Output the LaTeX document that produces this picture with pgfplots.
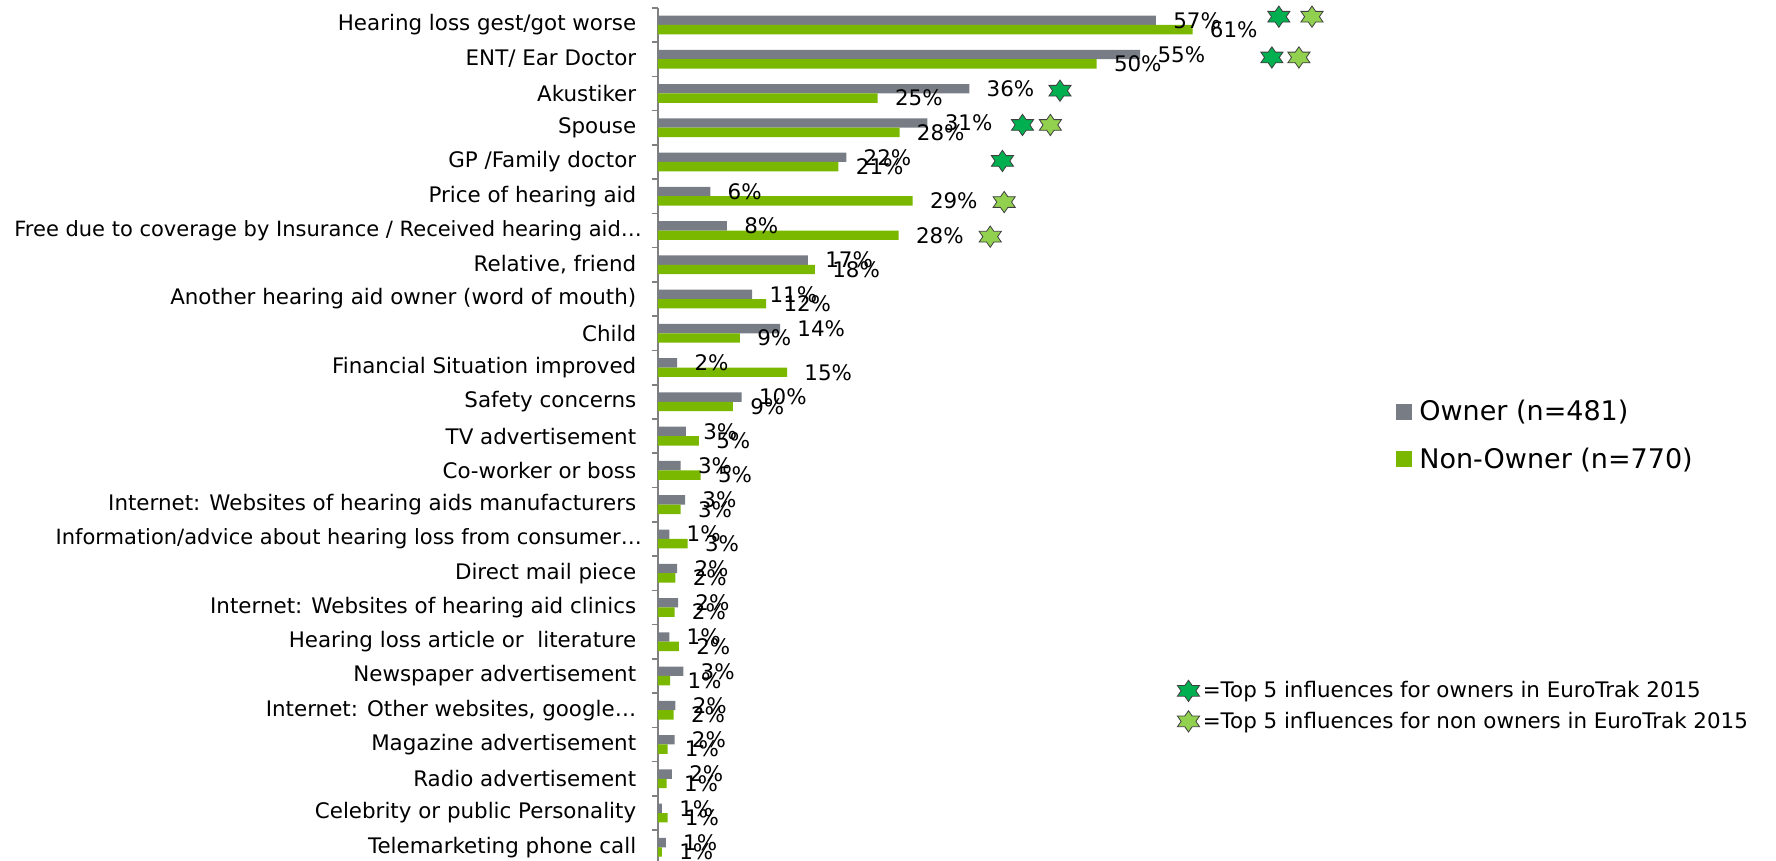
\documentclass[border=0pt]{standalone}
\usepackage{fontspec}
\setmainfont{DejaVu Sans}
\usepackage{pgfplots}
\pgfplotsset{compat=1.18}
\usepackage{pgfplotstable}

\definecolor{ownc}{RGB}{120,125,133}
\definecolor{nonc}{RGB}{122,184,0}
\definecolor{stard}{RGB}{0,176,80}
\definecolor{starl}{RGB}{146,208,80}
\definecolor{axc}{RGB}{128,128,128}

\newcommand{\lab}{\fontsize{10.7}{12.5}\selectfont}
\newcommand{\labs}{\fontsize{10.5}{12.5}\selectfont}
\newcommand{\legf}{\fontsize{13.5}{15.5}\selectfont}

\pgfdeclareplotmark{hexstar}{%
  \pgfpathmoveto{\pgfpoint{0pt}{\pgfplotmarksize}}%
  \pgfpathlineto{\pgfpoint{-0.346\pgfplotmarksize}{0.5\pgfplotmarksize}}%
  \pgfpathlineto{\pgfpoint{-1.039\pgfplotmarksize}{0.5\pgfplotmarksize}}%
  \pgfpathlineto{\pgfpoint{-0.693\pgfplotmarksize}{0pt}}%
  \pgfpathlineto{\pgfpoint{-1.039\pgfplotmarksize}{-0.5\pgfplotmarksize}}%
  \pgfpathlineto{\pgfpoint{-0.346\pgfplotmarksize}{-0.5\pgfplotmarksize}}%
  \pgfpathlineto{\pgfpoint{0pt}{-\pgfplotmarksize}}%
  \pgfpathlineto{\pgfpoint{0.346\pgfplotmarksize}{-0.5\pgfplotmarksize}}%
  \pgfpathlineto{\pgfpoint{1.039\pgfplotmarksize}{-0.5\pgfplotmarksize}}%
  \pgfpathlineto{\pgfpoint{0.693\pgfplotmarksize}{0pt}}%
  \pgfpathlineto{\pgfpoint{1.039\pgfplotmarksize}{0.5\pgfplotmarksize}}%
  \pgfpathlineto{\pgfpoint{0.346\pgfplotmarksize}{0.5\pgfplotmarksize}}%
  \pgfpathclose
  \pgfusepathqfillstroke
}

% y = row position counted from the bottom (Hearing loss = 24)
\pgfplotstableread{
y own lown non lnon
24 57.1 57 61.3 61
23 55.3 55 50.3 50
22 35.7 36 25.2 25
21 30.9 31 27.7 28
20 21.6 22 20.7 21
19 6.0 6 29.2 29
18 7.9 8 27.6 28
17 17.2 17 18.0 18
16 10.8 11 12.4 12
15 14.0 14 9.4 9
14 2.2 2 14.8 15
13 9.6 10 8.6 9
12 3.2 3 4.7 5
11 2.6 3 4.9 5
10 3.1 3 2.6 3
9 1.3 1 3.4 3
8 2.2 2 2.0 2
7 2.3 2 1.9 2
6 1.3 1 2.4 2
5 2.9 3 1.4 1
4 2.0 2 1.8 2
3 1.9 2 1.1 1
2 1.6 2 1.0 1
1 0.45 1 1.1 1
0 0.9 1 0.45 1
}\datatable

\begin{document}
\begin{tikzpicture}
\begin{axis}[
  at={(0pt,0pt)}, anchor=south west,
  scale only axis, width=348.8pt, height=426.6pt,
  xmin=0, xmax=80, ymin=-0.40, ymax=24.5,
  xbar, bar width=4.7pt,
  axis x line=none, axis y line*=left,
  y axis line style={draw=axc, line width=0.8pt, -},
  ytick={0,...,24},
  yticklabels={
    Telemarketing phone call,
    Celebrity or public Personality,
    Radio advertisement,
    Magazine advertisement,
    {Internet: Other websites, google…},
    Newspaper advertisement,
    Hearing loss article or~ literature,
    Internet: Websites of hearing aid clinics,
    Direct mail piece,
    {\labs Information/advice about hearing loss from consumer…\hspace*{-2.8pt}},
    Internet: Websites of hearing aids manufacturers,
    Co-worker or boss,
    TV advertisement,
    Safety concerns,
    Financial Situation improved,
    Child,
    Another hearing aid owner (word of mouth),
    {Relative, friend},
    {\labs Free due to coverage by Insurance / Received hearing aid…\hspace*{-2.8pt}},
    Price of hearing aid,
    GP /Family doctor,
    Spouse,
    Akustiker,
    ENT/ Ear Doctor,
    Hearing loss gest/got worse},
  major tick length=0pt,
  minor ytick={-0.5,0.5,...,24.5},
  minor tick length=3.2pt,
  tick align=outside,
  every minor tick/.append style={draw=axc, line width=0.8pt},
  yticklabel style={font=\lab, anchor=east, inner sep=0pt, xshift=-10.7pt},
  clip=false,
  point meta=explicit symbolic,
  nodes near coords={\pgfplotspointmeta\%},
  nodes near coords style={font=\lab, anchor=west, inner sep=0pt, xshift=8.5pt, text=black},
  legend style={at={(axis description cs:1.0572,0.4987)}, anchor=west,
    draw=none, fill=none, inner sep=0pt, font=\legf, row sep=12.1pt,
    nodes={inner sep=0pt, anchor=west},
    /tikz/every odd column/.append style={column sep=3.75pt}},
  legend cell align=left,
]
\addplot[fill=ownc, draw=none, bar shift=2.35pt,
  legend image code/.code={\fill[ownc] (0pt,-4pt) rectangle (8pt,4pt);}]
  table[x=own, y=y, meta=lown] {\datatable};
\addlegendentry{Owner (n=481)}
\addplot[fill=nonc, draw=none, bar shift=-2.35pt,
  legend image code/.code={\fill[nonc] (0pt,-4pt) rectangle (8pt,4pt);}]
  table[x=non, y=y, meta=lnon] {\datatable};
\addlegendentry{Non-Owner (n=770)}
\end{axis}

\begin{axis}[
  at={(0pt,0pt)}, anchor=south west,
  scale only axis, width=348.8pt, height=426.6pt,
  xmin=0, xmax=80, ymin=-0.40, ymax=24.5,
  hide axis, clip=false,
  legend style={at={(axis description cs:0.744,0.1815)}, anchor=west,
    draw=none, fill=none, inner sep=0pt, font=\lab, row sep=4.6pt,
    nodes={inner sep=0pt, anchor=west},
    /tikz/every odd column/.append style={column sep=1.6pt}},
  legend cell align=left,
  legend image code/.code={\draw[#1] plot coordinates {(0pt,0pt)};},
]
\addplot[only marks, mark=hexstar, mark size=5.33pt,
  mark options={fill=stard, draw=black!75, line width=0.4pt}]
  coordinates {(71.2,24.24) (70.4,23.05) (46.1,22.08) (41.8,21.08) (39.5,20.03)};
\addlegendentry{=Top 5 influences for owners in EuroTrak 2015}
\addplot[only marks, mark=hexstar, mark size=5.33pt,
  mark options={fill=starl, draw=black!75, line width=0.4pt}]
  coordinates {(75.0,24.24) (73.5,23.05) (45.0,21.08) (39.7,18.83) (38.1,17.82)};
\addlegendentry{=Top 5 influences for non owners in EuroTrak 2015}
\end{axis}
\pgfresetboundingbox
\path[use as bounding box] (-329pt,0pt) rectangle (559pt,430.5pt);
\end{tikzpicture}
\end{document}
